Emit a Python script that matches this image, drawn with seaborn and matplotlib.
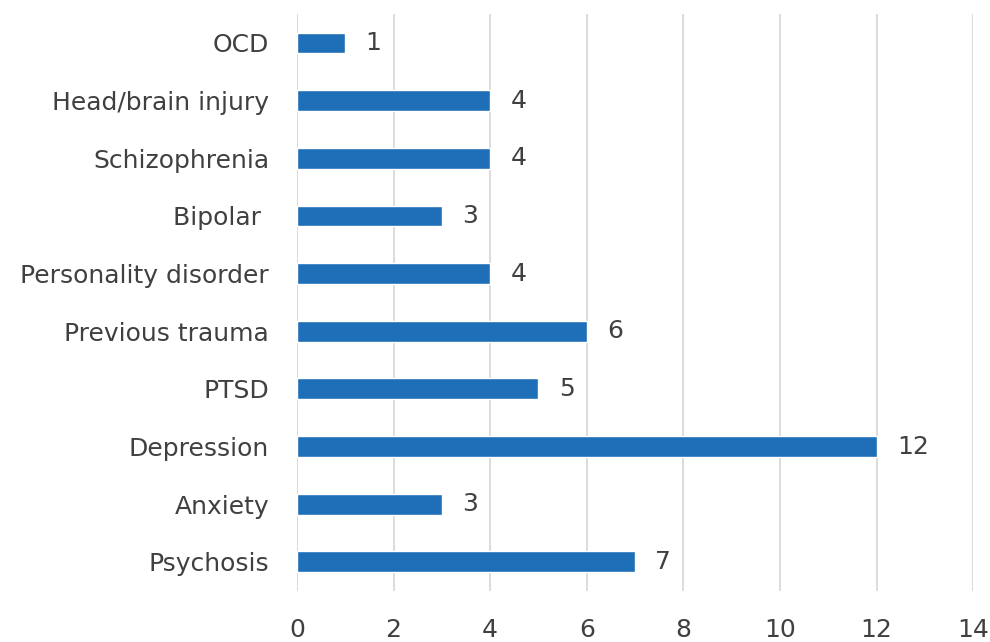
import seaborn as sns
import matplotlib.pyplot as plt
import pandas as pd

conditions = ['OCD', 'Head/brain injury', 'Schizophrenia', 'Bipolar ', 'Personality disorder',
              'Previous trauma', 'PTSD', 'Depression', 'Anxiety', 'Psychosis']
counts = [1, 4, 4, 3, 4, 6, 5, 12, 3, 7]
x_ticks = [0, 2, 4, 6, 8, 10, 12, 14]

df = pd.DataFrame({'condition': conditions, 'count': counts})

sns.set_style('white')
plt.rcParams['font.family'] = ['DejaVu Sans']
txt = '#404040'
fs = 18

fig = plt.figure(figsize=(9.9, 6.42), dpi=100)
ax = fig.add_axes([0.3, 0.08, 0.683, 0.898])
sns.barplot(data=df, x='count', y='condition', orient='h', color='#1F6FB8',
            saturation=1, width=0.36, ax=ax)

ax.set_xlim(0, 14)
ax.set_ylim(len(conditions) - 0.5, -0.5)
ax.set_xticks(x_ticks)
ax.grid(axis='x', color='#d9d9d9', lw=1.3)
ax.set_axisbelow(True)
for s in ax.spines.values():
    s.set_visible(False)
ax.tick_params(axis='both', length=0, labelsize=fs, labelcolor=txt)
ax.tick_params(axis='y', pad=20)
ax.tick_params(axis='x', pad=20)
ax.set_xlabel('')
ax.set_ylabel('')

for i, v in enumerate(counts):
    ax.text(v + 0.42, i, str(v), va='center', ha='left', fontsize=fs, color=txt)

fig.savefig('out.png', dpi=100)
